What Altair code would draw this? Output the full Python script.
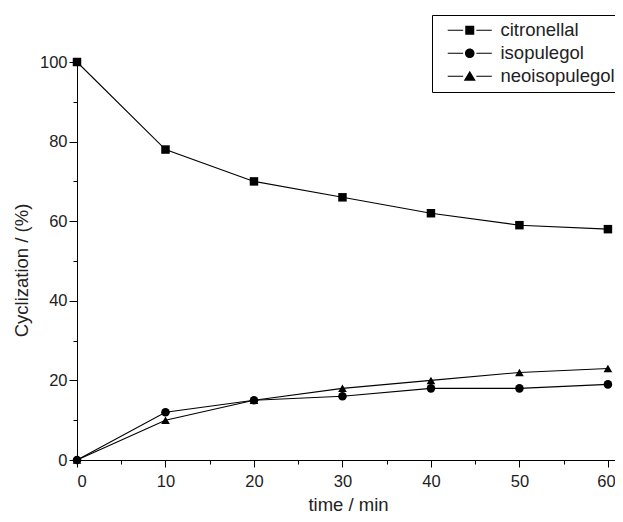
import altair as alt
import pandas as pd

times = [0, 10, 20, 30, 40, 50, 60]
citronellal = [100, 78, 70, 66, 62, 59, 58]
isopulegol = [0, 12, 15, 16, 18, 18, 19]
neoisopulegol = [0, 10, 15, 18, 20, 22, 23]
series_names = ["citronellal", "isopulegol", "neoisopulegol"]

rows = []
for name, vals in zip(series_names, [citronellal, isopulegol, neoisopulegol]):
    for t, v in zip(times, vals):
        rows.append({"time": t, "value": v, "series": name})
df = pd.DataFrame(rows)

FONT = "Liberation Sans"
TXT = "#222222"

# legend glyphs: line - marker - line, drawn as filled shapes (unit = sqrt(size)/2 = 6px)
LN = "M-3.67,-0.09H-1.1V0.09H-3.67ZM1.1,-0.09H3.67V0.09H1.1Z"
sq = LN + "M-0.75,-0.75H0.75V0.75H-0.75Z"
ci = LN + "M0.8,0A0.8,0.8 0 1,1 -0.8,0A0.8,0.8 0 1,1 0.8,0Z"
tr = LN + "M0,-0.9L1,0.75L-1,0.75Z"

x_enc = alt.X(
    "time:Q",
    scale=alt.Scale(domain=[0, 60.8], nice=False, zero=False),
    axis=alt.Axis(
        title="time / min",
        values=list(range(0, 61, 5)),
        labelExpr="datum.value % 10 === 0 ? datum.label : ''",
        tickSize={"condition": {"test": "datum.value % 10 === 0", "value": 7}, "value": 4},
        labelOffset={"condition": {"test": "datum.value === 60", "value": -2}, "value": 0},
        labelPadding=6,
        labelFontSize=16.5,
        titleFontSize=18.5,
        titleFontWeight="normal",
        titleBaseline="alphabetic",
        titleX=271,
        titleY=50,
        grid=False,
    ),
)
y_enc = alt.Y(
    "value:Q",
    scale=alt.Scale(domain=[0, 100], nice=False),
    axis=alt.Axis(
        title="Cyclization / (%)",
        values=list(range(0, 101, 10)),
        labelExpr="datum.value % 20 === 0 ? datum.label : ''",
        tickSize={"condition": {"test": "datum.value % 20 === 0", "value": 8}, "value": 4},
        labelPadding=2,
        labelFontSize=16.5,
        titleFontSize=18.5,
        titleFontWeight="normal",
        titleBaseline="alphabetic",
        titleAngle=270,
        titleX=-50,
        titleY=208,
        grid=False,
    ),
)

base = alt.Chart(df)

lines = base.mark_line(color="black", strokeWidth=1.1).encode(
    x=x_enc, y=y_enc, detail="series:N"
)

points = base.mark_point(filled=True, color="black", opacity=1).encode(
    x=x_enc,
    y=y_enc,
    shape=alt.Shape(
        "series:N",
        scale=alt.Scale(domain=series_names, range=["square", "circle", "triangle-up"]),
        legend=None,
    ),
    size=alt.Size(
        "series:N",
        scale=alt.Scale(domain=series_names, range=[72, 75, 130]),
        legend=None,
    ),
)

legend_layer = (
    base.transform_filter("false")
    .mark_point(filled=True, color="black", opacity=1, size=144)
    .encode(
        x=x_enc,
        y=y_enc,
        shape=alt.Shape(
            "series:N",
            scale=alt.Scale(domain=series_names, range=[sq, ci, tr]),
            legend=alt.Legend(
                title=None,
                orient="none",
                legendX=355,
                legendY=-47,
                padding=6,
                strokeColor="black",
                fillColor="white",
                symbolSize=144,
                symbolOffset=22.5,
                symbolFillColor="black",
                symbolStrokeWidth=0,
                symbolOpacity=1,
                labelFontSize=18.5,
                labelFont=FONT,
                labelColor=TXT,
                labelOffset=21.5,
                rowPadding=4,
            ),
        ),
    )
)

chart = (
    alt.layer(lines, points, legend_layer)
    .resolve_scale(shape="independent", size="independent")
    .properties(
        width=538,
        height=398,
        autosize=alt.AutoSizeParams(type="none"),
        padding={"left": 69, "top": 54, "right": 0, "bottom": 54},
    )
    .configure_view(stroke=None)
    .configure_axis(
        domainColor="black",
        tickColor="black",
        domainWidth=1,
        tickWidth=1,
        labelFont=FONT,
        titleFont=FONT,
        labelColor=TXT,
        titleColor=TXT,
    )
)

chart.save("out.html", embed_options={"renderer": "svg", "actions": False})
